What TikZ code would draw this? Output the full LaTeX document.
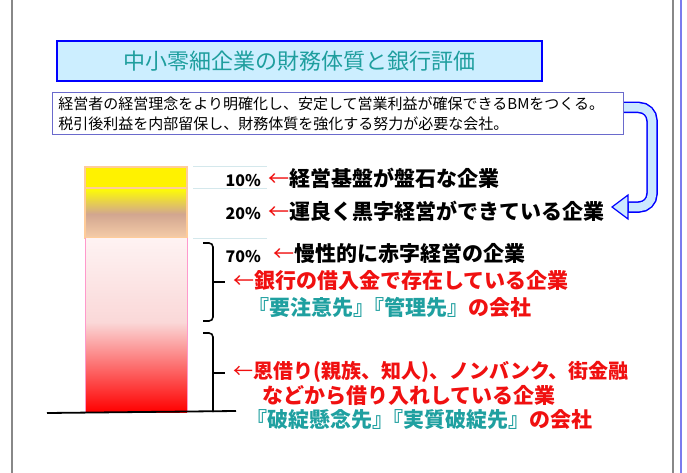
\documentclass[tikz,border=0pt]{standalone}
\usepackage{fontspec}
\newfontfamily\jp{Noto Sans CJK JP}
\definecolor{framegray}{HTML}{888888}
\definecolor{frameblue}{HTML}{7B7BEE}
\definecolor{titlefill}{HTML}{CCEEFF}
\definecolor{titleteal}{HTML}{1E9E9E}
\definecolor{boxline}{HTML}{6A6ACC}
\definecolor{arrowfill}{HTML}{CCE8FF}
\definecolor{jred}{HTML}{F01010}
\definecolor{jteal}{HTML}{1FA0A0}
\definecolor{peach}{HTML}{FFCC99}
\definecolor{tan1}{HTML}{D2A690}
\definecolor{peachlow}{HTML}{F6CDA8}
\definecolor{pinkline}{HTML}{FF99CC}
\definecolor{pink1}{HTML}{FEF3F3}
\definecolor{pink2}{HTML}{FAD8D8}
\definecolor{pink3}{HTML}{F88A8A}
\definecolor{sepline}{HTML}{D4E8EC}
\tikzset{
  lbl/.style={inner sep=0pt, outer sep=0pt, anchor=west, font=\jp\bfseries\fontsize{21}{24}\selectfont},
  lblsmall/.style={lbl, font=\jp\bfseries\fontsize{20}{24}\selectfont},
  pct/.style={inner sep=0pt, outer sep=0pt, anchor=east, font=\jp\bfseries\fontsize{16}{18}\selectfont},
  brace/.style={line width=1.6pt, rounded corners=4pt},
}
\newcommand{\rarr}{{\color{jred}\mdseries ←}}
\newcommand{\jj}{\kern-0.5em}
\begin{document}
\begin{tikzpicture}[x=1pt,y=-1pt]
\useasboundingbox (0,0) rectangle (687,473);
\fill[white] (0,0) rectangle (687,473);
% frame lines
\draw[framegray, line width=2pt] (12,0) -- (12,473);
\draw[framegray, line width=2pt] (673,0) -- (673,473);
\draw[frameblue, line width=1.2pt] (681,0) -- (681,473);
% title
\node[draw=blue, line width=2.2pt, fill=titlefill, minimum width=485pt, minimum height=40pt,
      anchor=north west, inner sep=0pt, text=titleteal, font=\jp\fontsize{22}{24}\selectfont]
      (title) at (56,40) {中小零細企業の財務体質と銀行評価};
% curved arrow
\coordinate (a0) at (623,107.5);
\coordinate (a1) at (628,207);
\draw[blue, line width=11.5pt, rounded corners=13pt] (a0) -- (652,107.5) -- (652,207) -- (a1);
\draw[blue, line width=1.2pt, fill=arrowfill, line join=miter] (628,195) -- (612,207) -- (628,219) -- cycle;
\draw[arrowfill, line width=8.5pt, rounded corners=13pt] (a0) -- (652,107.5) -- (652,207) -- (629,207);
% text box
\node[draw=boxline, line width=0.9pt, fill=white, anchor=north west, minimum width=571pt, minimum height=42pt,
      inner xsep=6pt, inner ysep=0pt, text width=559pt, align=left, font=\jp\fontsize{15}{20}\selectfont]
      (tb) at (52,92) {経営者の経営理念をより明確化し、安定して営業利益が確保できるBMをつくる。\\税引後利益を内部留保し、財務体質を強化する努力が必要な会社。};
% bar
\fill[yellow] (85,167) rectangle (187,188);
\shade[top color=yellow, bottom color=tan1] (85,188) rectangle (187,214);
\shade[top color=tan1, bottom color=peachlow] (85,214) rectangle (187,238);
\draw[peach, line width=1.5pt] (85,167) rectangle (187,238);
\draw[peach, line width=1.2pt] (85,188) -- (187,188);
\shade[top color=pink1, bottom color=pink2] (85,238) rectangle (187,322);
\shade[top color=pink2, middle color=pink3, bottom color=red] (85,322) rectangle (187,412);
\draw[pinkline, line width=0.9pt] (85,238) -- (85,412) (187,238) -- (187,412);
% separators
\draw[sepline, line width=1pt] (193,167) -- (267,167) (193,188) -- (267,188) (193,238) -- (267,238);
% base line
\draw[black, line width=1.8pt] (47,413) -- (236,411);
% braces
\draw[brace] (203,243) -- (213,243) -- (213,321) -- (203,321);
\draw[line width=1.6pt] (213,282) -- (225,282);
\draw[brace] (203,333) -- (213,333) -- (213,412);
\draw[line width=1.6pt] (213,373) -- (225,373);
% percentages
\node[pct] (p10) at (261,181) {10\%};
\node[pct] (p20) at (261,214) {20\%};
\node[pct] (p70) at (261,257) {70\%};
% labels
\node[lbl] (l1) at (268,178) {\rarr 経営基盤が盤石な企業};
\node[lbl] (l2) at (268,211) {\rarr 運良く黒字経営ができている企業};
\node[lbl] (l3) at (273,254) {\rarr 慢性的に赤字経営の企業};
\node[lbl, text=jred] (l4) at (233,281) {\rarr 銀行の借入金で存在している企業};
\node[lbl, text=jred] (l5) at (248,307) {{\color{jteal}『要注意先』\jj『管理先』}の会社};
\node[lblsmall, text=jred] (l6) at (233,372) {\rarr 恩借り(親族、知人)、ノンバンク、街金融};
\node[lbl, text=jred] (l7) at (262,396) {などから借り入れしている企業};
\node[lbl, text=jred] (l8) at (246,420) {{\color{jteal}『破綻懸念先』\jj『実質破綻先』}の会社};
\end{tikzpicture}
\end{document}
